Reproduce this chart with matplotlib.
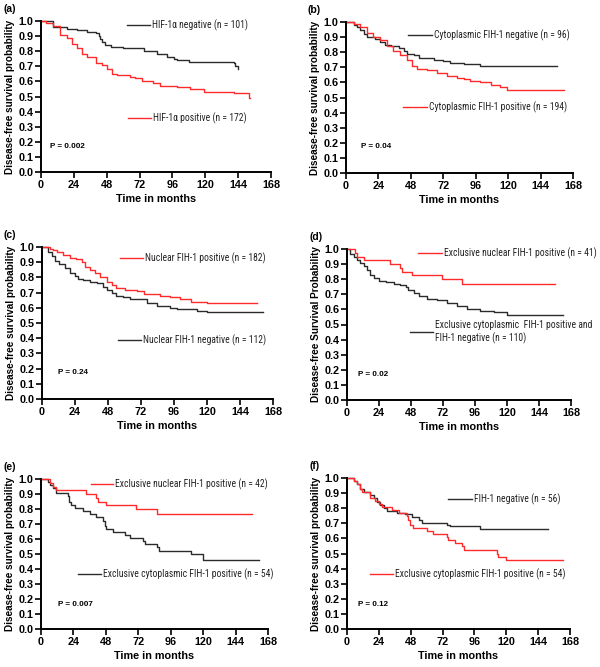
import matplotlib
matplotlib.use("Agg")
import matplotlib.pyplot as plt
from matplotlib.ticker import FixedLocator, FormatStrFormatter
from matplotlib import font_manager

plt.rcParams["font.family"] = ["Liberation Sans", "DejaVu Sans"]

RED = "#ff2a2a"
BLACK = "#2b2b2b"

# ---- data: step curves (event times in months, survival after step) ----
# (a)
a_neg_t = [0, 9, 19, 26, 33.6, 40, 42, 43, 44.5, 47, 51, 60, 75, 85, 92, 97, 99, 108, 141, 142, 144]
a_neg_s = [1.0, 0.96, 0.95, 0.94, 0.93, 0.92, 0.90, 0.88, 0.86, 0.84, 0.83, 0.82, 0.80, 0.78, 0.76, 0.75, 0.74, 0.73, 0.72, 0.70, 0.68]
a_pos_t = [0, 4, 9, 14, 19, 22.6, 26, 30, 33.6, 40, 44.5, 48, 52, 55.5, 65, 69, 74, 82, 87, 99, 109, 119, 141, 152, 152.5]
a_pos_s = [1.0, 0.99, 0.97, 0.91, 0.89, 0.85, 0.82, 0.78, 0.76, 0.72, 0.71, 0.68, 0.65, 0.64, 0.63, 0.62, 0.60, 0.59, 0.57, 0.56, 0.55, 0.53, 0.52, 0.49, 0.49]
# (b)
b_neg_t = [0, 5.7, 8, 10.6, 13, 15.5, 21.7, 25, 29, 33, 39, 43, 45, 50, 54, 65, 72, 77, 87, 99, 156]
b_neg_s = [1.0, 0.98, 0.97, 0.95, 0.92, 0.90, 0.89, 0.87, 0.85, 0.84, 0.83, 0.81, 0.79, 0.78, 0.76, 0.75, 0.74, 0.73, 0.72, 0.71, 0.71]
b_pos_t = [0, 5.7, 10.6, 15.5, 20, 25, 30, 35, 40, 45, 49, 52.5, 60, 67, 75, 82, 87, 92, 99, 107, 114, 119, 161]
b_pos_s = [1.0, 0.99, 0.97, 0.93, 0.90, 0.88, 0.84, 0.81, 0.78, 0.75, 0.71, 0.69, 0.68, 0.66, 0.64, 0.63, 0.62, 0.61, 0.60, 0.58, 0.57, 0.55, 0.55]
# (c)
c_pos_t = [0, 5.8, 8, 10.7, 15.5, 20, 25, 29, 31, 35, 38.6, 42, 47, 50.7, 54, 60, 69, 74, 86, 93, 100, 108, 120, 156]
c_pos_s = [1.0, 0.99, 0.98, 0.97, 0.95, 0.93, 0.92, 0.90, 0.87, 0.85, 0.83, 0.80, 0.77, 0.75, 0.73, 0.72, 0.71, 0.69, 0.68, 0.67, 0.66, 0.64, 0.63, 0.63]
c_neg_t = [0, 4.6, 7, 9.5, 12, 16.7, 20, 24, 26.5, 30, 35, 40, 44.7, 47, 50.7, 54, 59, 64, 76, 83.5, 93, 98, 112.6, 120, 161]
c_neg_s = [1.0, 0.97, 0.94, 0.91, 0.89, 0.86, 0.83, 0.81, 0.79, 0.78, 0.77, 0.76, 0.74, 0.72, 0.70, 0.68, 0.67, 0.66, 0.63, 0.61, 0.60, 0.59, 0.58, 0.57, 0.57]
# (d)
d_nuc_t = [0, 6.25, 7.5, 10, 12.5, 32.5, 40, 41, 49, 71, 86, 156]
d_nuc_s = [1.0, 0.975, 0.95, 0.95, 0.93, 0.90, 0.875, 0.85, 0.825, 0.80, 0.77, 0.77]
d_cyt_t = [0, 2.5, 5, 7.5, 10, 12.5, 15, 17.5, 20, 24, 29, 35, 40, 44, 46, 50, 54, 60, 67.5, 75, 82.5, 90, 100, 110, 120, 162]
d_cyt_s = [1.0, 0.97, 0.95, 0.93, 0.91, 0.89, 0.86, 0.83, 0.81, 0.79, 0.78, 0.77, 0.76, 0.75, 0.73, 0.71, 0.69, 0.67, 0.66, 0.64, 0.62, 0.60, 0.59, 0.58, 0.56, 0.56]
# (e)
e_nuc_t = [0, 6.4, 9, 11.4, 13.8, 33.6, 41, 42, 48, 70.6, 85.5, 156]
e_nuc_s = [1.0, 0.975, 0.95, 0.93, 0.93, 0.90, 0.875, 0.85, 0.825, 0.80, 0.77, 0.77]
e_cyt_t = [0, 5, 6.5, 9, 11.4, 13.8, 20, 21, 22.5, 25, 31, 36, 41, 46, 47, 48.4, 53, 62, 65.7, 75.6, 77, 85.5, 87, 111, 120, 161]
e_cyt_s = [1.0, 0.98, 0.96, 0.94, 0.91, 0.91, 0.89, 0.85, 0.83, 0.81, 0.79, 0.77, 0.75, 0.72, 0.69, 0.67, 0.65, 0.63, 0.61, 0.59, 0.57, 0.55, 0.52, 0.50, 0.46, 0.46]
# (f)
f_neg_t = [0, 5, 7.5, 10, 12.5, 17.5, 20, 22.5, 25, 27.5, 30, 37.6, 44, 49, 54, 56.4, 75, 77.7, 100, 151.6]
f_neg_s = [1.0, 0.98, 0.96, 0.93, 0.91, 0.89, 0.87, 0.84, 0.82, 0.80, 0.78, 0.77, 0.76, 0.74, 0.72, 0.70, 0.69, 0.68, 0.66, 0.66]
f_pos_t = [0, 5, 7.5, 10, 11.3, 17.5, 21, 24, 26, 34, 39, 45, 46, 47.6, 50, 60, 65, 75, 76, 81.5, 86.5, 88, 112.8, 114, 120, 163]
f_pos_s = [1.0, 0.98, 0.96, 0.93, 0.91, 0.87, 0.85, 0.83, 0.81, 0.79, 0.77, 0.75, 0.72, 0.69, 0.67, 0.65, 0.63, 0.61, 0.59, 0.57, 0.55, 0.52, 0.50, 0.48, 0.46, 0.46]

x_ticks = [0, 24, 48, 72, 96, 120, 144, 168]
y_ticks = [0.0, 0.1, 0.2, 0.3, 0.4, 0.5, 0.6, 0.7, 0.8, 0.9, 1.0]

# legend text in the original is a condensed face (Arial Narrow look)
names = {f.name for f in font_manager.fontManager.ttflist}
LEG_FAMILY = "Liberation Sans"
for cand in ["Liberation Sans Narrow", "Arimo Narrow", "Roboto Condensed", "Archivo Narrow",
             "PT Sans Narrow", "Open Sans Condensed", "Fira Sans Condensed"]:
    if cand in names:
        LEG_FAMILY = cand
        break

W, H = 600, 667
fig = plt.figure(figsize=(W / 100, H / 100), dpi=100)

# size the legend font so the longest entry is as wide as in the original (~150 px)
probe = fig.text(0, 0, "Exclusive nuclear FIH-1 positive (n = 41)", fontsize=10, family=LEG_FAMILY)
fig.canvas.draw()
LEG_SIZE = min(7.6, 10 * 150 / probe.get_window_extent().width)
probe.remove()


def px_axes(x0, y0, x1, y1):
    return fig.add_axes([x0 / W, 1 - y1 / H, (x1 - x0) / W, (y1 - y0) / H])


def km_panel(box, tag, curves, legends, pval, ppos, ylabel="Disease-free survival probability"):
    ax = px_axes(*box)
    for t, s, c in curves:
        ax.step(t, s, where="post", color=c, lw=1.0, clip_on=False)
    ax.set_xlim(0, 168)
    ax.set_ylim(0, 1.0)
    ax.xaxis.set_major_locator(FixedLocator(x_ticks))
    ax.yaxis.set_major_locator(FixedLocator(y_ticks))
    ax.yaxis.set_major_formatter(FormatStrFormatter("%.1f"))
    for sp in ["top", "right"]:
        ax.spines[sp].set_visible(False)
    for sp in ["left", "bottom"]:
        ax.spines[sp].set_linewidth(1.4)
    ax.tick_params(width=1.2, length=4, labelsize=7.8, pad=1.5)
    for lab in ax.get_xticklabels() + ax.get_yticklabels():
        lab.set_fontweight("bold")
    ax.set_xlabel("Time in months", fontsize=7.8, fontweight="bold", labelpad=3)
    ax.set_ylabel(ylabel, fontsize=7.2, fontweight="bold", labelpad=2)

    x0, y0 = box[0], box[1]
    fig.text((x0 - 38) / W, 1 - (y0 - 12) / H, tag, fontsize=7.5, fontweight="bold",
             va="center", ha="left")

    for (lx0, lx1, ly, c, txt) in legends:
        fig.add_artist(plt.Line2D([lx0 / W, lx1 / W], [1 - ly / H, 1 - ly / H], color=c, lw=1.0))
        fig.text((lx1 + 2) / W, 1 - ly / H, txt, fontsize=LEG_SIZE, family=LEG_FAMILY,
                 va="center", ha="left", linespacing=1.25, color="#222222")
    fig.text(ppos[0] / W, 1 - ppos[1] / H, pval, fontsize=5.8, fontweight="bold",
             va="center", ha="left")
    return ax


km_panel((41, 21, 271, 172), "(a)",
         [(a_neg_t, a_neg_s, BLACK), (a_pos_t, a_pos_s, RED)],
         [(127, 150, 25, BLACK, "HIF-1\u03b1 negative (n = 101)"),
          (128, 151, 118, RED, "HIF-1\u03b1 positive (n = 172)")],
         "P = 0.002", (50, 146))

km_panel((346, 22, 573, 173), "(b)",
         [(b_neg_t, b_neg_s, BLACK), (b_pos_t, b_pos_s, RED)],
         [(408, 432, 35, BLACK, "Cytoplasmic FIH-1 negative (n = 96)"),
          (403, 427, 107, RED, "Cytoplasmic FIH-1 positive (n = 194)")],
         "P = 0.04", (361, 146))

km_panel((42, 247, 273, 399), "(c)",
         [(c_neg_t, c_neg_s, BLACK), (c_pos_t, c_pos_s, RED)],
         [(120, 143, 258, RED, "Nuclear FIH-1 positive (n = 182)"),
          (118, 141, 340, BLACK, "Nuclear FIH-1 negative (n = 112)")],
         "P = 0.24", (58, 372))

km_panel((347, 249, 571, 400), "(d)",
         [(d_cyt_t, d_cyt_s, BLACK), (d_nuc_t, d_nuc_s, RED)],
         [(418, 442, 253, RED, "Exclusive nuclear FIH-1 positive (n = 41)"),
          (410, 433, 332, BLACK, "Exclusive cytoplasmic  FIH-1 positive and\nFIH-1 negative (n = 110)")],
         "P = 0.02", (358, 375), ylabel="Disease-free Survival Probability")

km_panel((41, 479, 268, 629), "(e)",
         [(e_cyt_t, e_cyt_s, BLACK), (e_nuc_t, e_nuc_s, RED)],
         [(91, 113, 484, RED, "Exclusive nuclear FIH-1 positive (n = 42)"),
          (78, 101, 574, BLACK, "Exclusive cytoplasmic FIH-1 positive (n = 54)")],
         "P = 0.007", (58, 604))

km_panel((347, 478, 570, 629), "(f)",
         [(f_neg_t, f_neg_s, BLACK), (f_pos_t, f_pos_s, RED)],
         [(448, 472, 499, BLACK, "FIH-1 negative (n = 56)"),
          (370, 393, 574, RED, "Exclusive cytoplasmic FIH-1 positive (n = 54)")],
         "P = 0.12", (358, 604))

fig.savefig("out.png", dpi=100)
